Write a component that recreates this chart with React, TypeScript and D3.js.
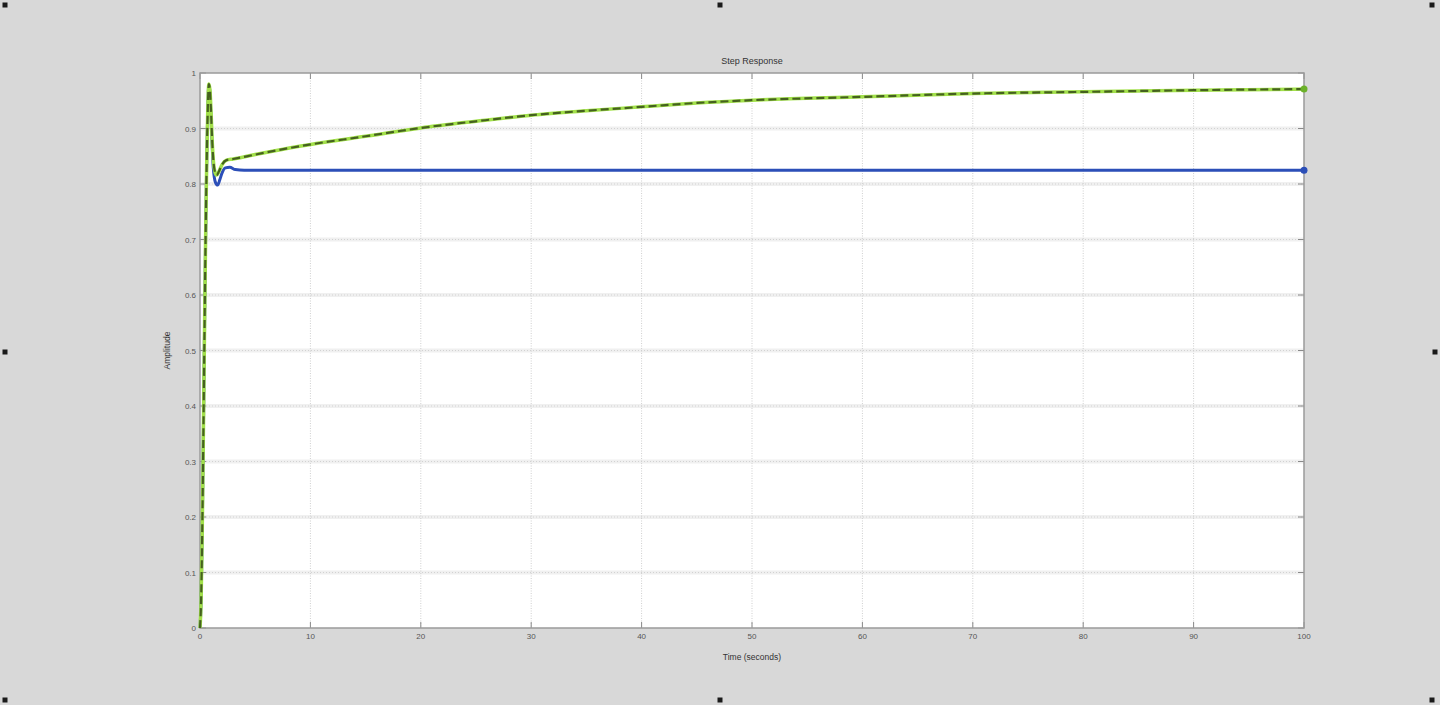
import * as d3 from 'd3';

// time samples (seconds) and step response values
const blueTimes = [0, 0.1, 0.2, 0.3, 0.4, 0.5, 0.6, 0.7, 0.8, 0.9, 1.0, 1.1, 1.2, 1.4, 1.6, 1.8, 2.0, 2.3, 2.7, 3.2, 4, 100];
const blueValues = [0, 0.05, 0.17, 0.34, 0.52, 0.69, 0.83, 0.93, 0.978, 0.965, 0.92, 0.87, 0.83, 0.803, 0.798, 0.808, 0.82, 0.829, 0.83, 0.826, 0.825, 0.825];

const greenTimes = [0, 0.1, 0.2, 0.3, 0.4, 0.5, 0.6, 0.7, 0.8, 0.9, 1.0, 1.1, 1.2, 1.35, 1.5, 1.7, 2.0, 2.4, 3, 5, 9, 15, 20, 25, 30, 35, 40, 45, 50, 60, 70, 80, 90, 100];
const greenValues = [0, 0.05, 0.17, 0.34, 0.52, 0.69, 0.83, 0.93, 0.98, 0.97, 0.93, 0.88, 0.845, 0.822, 0.816, 0.822, 0.835, 0.843, 0.845, 0.853, 0.868, 0.886, 0.901, 0.913, 0.924, 0.932, 0.939, 0.946, 0.951, 0.957, 0.963, 0.966, 0.969, 0.971];

const xTicks = [0, 10, 20, 30, 40, 50, 60, 70, 80, 90, 100];
const yTicks = [0, 0.1, 0.2, 0.3, 0.4, 0.5, 0.6, 0.7, 0.8, 0.9, 1];

const W = 1440;
const H = 705;
const plot = { left: 200, right: 1304, top: 73, bottom: 628 };

export default function App() {
  const x = d3.scaleLinear().domain([0, 100]).range([plot.left, plot.right]);
  const y = d3.scaleLinear().domain([0, 1]).range([plot.bottom, plot.top]);

  const line = d3.line<[number, number]>()
    .x((d) => x(d[0]))
    .y((d) => y(d[1]))
    .curve(d3.curveMonotoneX);

  const blue = blueTimes.map((t, i) => [t, blueValues[i]] as [number, number]);
  const green = greenTimes.map((t, i) => [t, greenValues[i]] as [number, number]);
  const blueEnd = blue[blue.length - 1];
  const greenEnd = green[green.length - 1];

  // selection handles around the figure
  const handles = [
    [5, 5], [720, 5], [1432, 5],
    [5, 352], [1435, 352],
    [5, 700], [720, 700], [1432, 700],
  ];

  const font = 'Arial, "Liberation Sans", sans-serif';

  return (
    <svg
      width={W}
      height={H}
      style={{ position: 'absolute', left: 0, top: 0, display: 'block' }}
      fontFamily={font}
    >
      <rect width={W} height={H} fill="#d8d8d8" />
      {handles.map(([hx, hy], i) => (
        <rect key={i} x={hx - 2.5} y={hy - 2.5} width={5} height={5} fill="#1a1a1a" />
      ))}

      <rect
        x={plot.left}
        y={plot.top}
        width={plot.right - plot.left}
        height={plot.bottom - plot.top}
        fill="#ffffff"
      />

      {/* grid */}
      {yTicks.slice(1, -1).map((t) => (
        <g key={`gy${t}`}>
          <line x1={plot.left} x2={plot.right} y1={y(t)} y2={y(t)} stroke="#f0f0f0" strokeWidth={4} />
          <line x1={plot.left} x2={plot.right} y1={y(t)} y2={y(t)} stroke="#d2d2d2" strokeWidth={1} strokeDasharray="1 2" />
        </g>
      ))}
      {xTicks.slice(1, -1).map((t) => (
        <line key={`gx${t}`} x1={x(t)} x2={x(t)} y1={plot.top} y2={plot.bottom} stroke="#cfcfcf" strokeWidth={1} strokeDasharray="1 1.5" />
      ))}

      {/* inward ticks */}
      {xTicks.map((t) => (
        <g key={`tx${t}`} stroke="#8a8a8a" strokeWidth={1}>
          <line x1={x(t)} x2={x(t)} y1={plot.bottom} y2={plot.bottom - 6} />
          <line x1={x(t)} x2={x(t)} y1={plot.top} y2={plot.top + 6} />
        </g>
      ))}
      {yTicks.map((t) => (
        <g key={`ty${t}`} stroke="#8a8a8a" strokeWidth={1}>
          <line x1={plot.left} x2={plot.left + 6} y1={y(t)} y2={y(t)} />
          <line x1={plot.right} x2={plot.right - 6} y1={y(t)} y2={y(t)} />
        </g>
      ))}

      <rect
        x={plot.left}
        y={plot.top}
        width={plot.right - plot.left}
        height={plot.bottom - plot.top}
        fill="none"
        stroke="#9a9a9a"
        strokeWidth={1.5}
      />

      {/* series */}
      <path d={line(blue) ?? ''} fill="none" stroke="#2c4fb8" strokeWidth={3} />
      <circle cx={x(blueEnd[0])} cy={y(blueEnd[1])} r={3.5} fill="#2c4fb8" />

      <path d={line(green) ?? ''} fill="none" stroke="#a2e04a" strokeWidth={3.5} />
      <path d={line(green) ?? ''} fill="none" stroke="#45611f" strokeWidth={2.2} strokeDasharray="8 4" />
      <circle cx={x(greenEnd[0])} cy={y(greenEnd[1])} r={3.5} fill="#6cb22a" />

      {/* tick labels */}
      {xTicks.map((t) => (
        <text key={`lx${t}`} x={x(t)} y={plot.bottom + 11} fontSize={8} fill="#555" textAnchor="middle">
          {t}
        </text>
      ))}
      {yTicks.map((t) => (
        <text key={`ly${t}`} x={plot.left - 4} y={y(t) + 3} fontSize={8} fill="#555" textAnchor="end">
          {t}
        </text>
      ))}

      <text x={(plot.left + plot.right) / 2} y={64} fontSize={9} fill="#333" textAnchor="middle">
        Step Response
      </text>
      <text x={(plot.left + plot.right) / 2} y={660} fontSize={8.5} fill="#333" textAnchor="middle">
        Time (seconds)
      </text>
      <text
        transform={`translate(170, ${(plot.top + plot.bottom) / 2}) rotate(-90)`}
        fontSize={8.5}
        fill="#333"
        textAnchor="middle"
      >
        Amplitude
      </text>
    </svg>
  );
}
